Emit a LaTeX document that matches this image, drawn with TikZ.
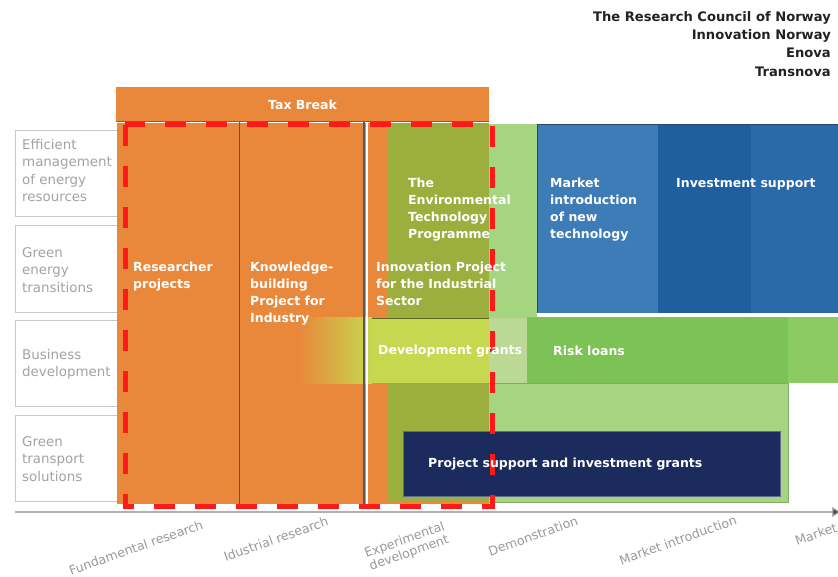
\documentclass[tikz,border=0pt]{standalone}
\usepackage{fontspec}
\setmainfont{DejaVu Sans}
\usetikzlibrary{arrows.meta}
\definecolor{orng}{HTML}{E9873A}
\definecolor{olive}{HTML}{9CAE3D}
\definecolor{lgreen}{HTML}{A5D580}
\definecolor{blueA}{HTML}{3E7CB8}
\definecolor{blueB}{HTML}{1F5FA0}
\definecolor{blueC}{HTML}{2A6AAA}
\definecolor{riskg}{HTML}{7DC254}
\definecolor{riskh}{HTML}{8CCB63}
\definecolor{devg}{HTML}{C6D850}
\definecolor{devl}{HTML}{BBD994}
\definecolor{navy}{HTML}{1C2B5E}
\definecolor{redd}{HTML}{FF1A1A}
\definecolor{lbl}{HTML}{A3A3A3}
\definecolor{boxln}{HTML}{C8C8C8}
\definecolor{axln}{HTML}{B0B0B0}
\definecolor{axtx}{HTML}{9A9A9A}
\definecolor{toptx}{HTML}{222222}
\newcommand\wfont{\bfseries\fontsize{12.5}{17}\selectfont}
\newcommand\lfont{\fontsize{13.4}{17.5}\selectfont}
\newcommand\afont{\fontsize{12.6}{13.5}\selectfont}
\newcommand\tfont{\bfseries\fontsize{13.1}{18.5}\selectfont}
\tikzset{
  wt/.style={font=\wfont, text=white, align=left, inner sep=0pt, anchor=north west},
  rowlbl/.style={font=\lfont, text=lbl, align=left, inner sep=0pt, anchor=north west},
  rowbox/.style={draw=boxln, fill=white, line width=0.8pt},
  axlbl/.style={font=\afont, text=axtx, align=center, inner sep=0pt, rotate=19.5},
  toplbl/.style={font=\tfont, text=toptx, inner sep=0pt, anchor=north east},
  reddash/.style={draw=redd, line width=5pt, dash pattern=on 21pt off 20pt},
  sepdark/.style={draw=black!65, line width=1.1pt},
  sepwhite/.style={draw=white, line width=1.6pt}
}
\begin{document}
\begin{tikzpicture}[x=1pt,y=-1pt]
\useasboundingbox (0,0) rectangle (838,577);
\fill[white] (0,0) rectangle (838,577);

% row label boxes
\draw[rowbox] (15,130) rectangle (119,216);
\draw[rowbox] (15,225) rectangle (119,312);
\draw[rowbox] (15,320) rectangle (119,406);
\draw[rowbox] (15,415) rectangle (119,501);
\node[rowlbl] (l1) at (22,139) {Efficient\\management\\of energy\\resources};
\node[rowlbl] (l2) at (22,247) {Green\\energy\\transitions};
\node[rowlbl] (l3) at (22,349) {Business\\development};
\node[rowlbl] (l4) at (22,436) {Green\\transport\\solutions};

% tax break
\fill[orng] (116,87) rectangle (489,122);
\draw[draw=black!60, line width=1pt] (116,122) -- (489,122);
\node[wt, anchor=center] (tax) at (302.5,104.5) {Tax Break};

% orange columns
\fill[orng] (117,123) rectangle (489,504);

% light green underlay
\fill[lgreen] (489,124) rectangle (537,320);
\fill[lgreen] (489,318) rectangle (788,502);
\draw[draw=lgreen!80!black, line width=0.6pt] (489,383) -- (788,383) -- (788,502) -- (489,502);

% olive programme
\fill[olive] (388,124) rectangle (489,502);

% blue blocks
\fill[blueA] (537,124) rectangle (658,313);
\fill[blueB] (658,124) rectangle (838,313);
\fill[blueC] (751,124) rectangle (838,313);
\draw[draw=white, line width=2pt] (537,315) -- (838,315);
\draw[draw=blueA!60!black, line width=0.6pt] (537,313) -- (537,124) -- (838,124);

% risk loans
\fill[riskg] (527,317) rectangle (838,383);
\fill[riskh] (788,317) rectangle (838,383);

% development grants band
\shade[left color=orng, right color=devg] (298,318) rectangle (372,383);
\fill[devg] (371,318) rectangle (489,383);
\fill[devl] (489,318) rectangle (527,383);
\draw[draw=olive!60!black, line width=0.6pt] (372,318) -- (489,318);

% separators
\draw[sepdark] (239.5,122) -- (239.5,504);
\draw[sepdark] (364,122) -- (364,504);
\draw[sepwhite] (366.8,122) -- (366.8,504);

% navy box
\fill[navy] (403,431) rectangle (780,496);
\draw[draw=navy!70!white, line width=0.6pt] (403,431) rectangle (780,496);

% red dashed frame
\draw[reddash] (125,125) rectangle (492,506);

% axis
\coordinate (axs) at (15,512);
\coordinate (axe) at (841,512);
\draw[draw=axln, line width=1.3pt, -{Triangle[length=9pt,width=10pt,fill=black!70]}] (axs) -- (axe);

% texts in blocks
\node[wt] (res) at (133,262) {Researcher\\projects};
\node[wt] (know) at (250,262) {Knowledge-\\building\\Project for\\Industry};
\node[wt] (innov) at (376,262) {Innovation Project\\for the Industrial\\Sector};
\node[wt] (envt) at (408,178) {The\\Environmental\\Technology\\Programme};
\node[wt] (mkt) at (550,178) {Market\\introduction\\of new\\technology};
\node[wt] (inv) at (676,178) {Investment support};
\node[wt] (dev) at (378,345) {Development grants};
\node[wt] (risk) at (553,346) {Risk loans};
\node[wt] (proj) at (428,458) {Project support and investment grants};

% axis labels
\node[axlbl] (a1) at (136,547.5) {Fundamental research};
\node[axlbl] (a2) at (276,539) {Idustrial research};
\node[axlbl] (a3) at (407,547) {Experimental\\development};
\node[axlbl] (a4) at (533,536) {Demonstration};
\node[axlbl] (a5) at (678,540) {Market introduction};
\node[axlbl, anchor=base west] (a6) at (797,546) {Market};

% top right agencies
\node[toplbl] (t1) at (831,11) {The Research Council of Norway};
\node[toplbl] (t2) at (831,29.5) {Innovation Norway};
\node[toplbl] (t3) at (831,48) {Enova};
\node[toplbl] (t4) at (831,66.5) {Transnova};
\end{tikzpicture}
\end{document}
